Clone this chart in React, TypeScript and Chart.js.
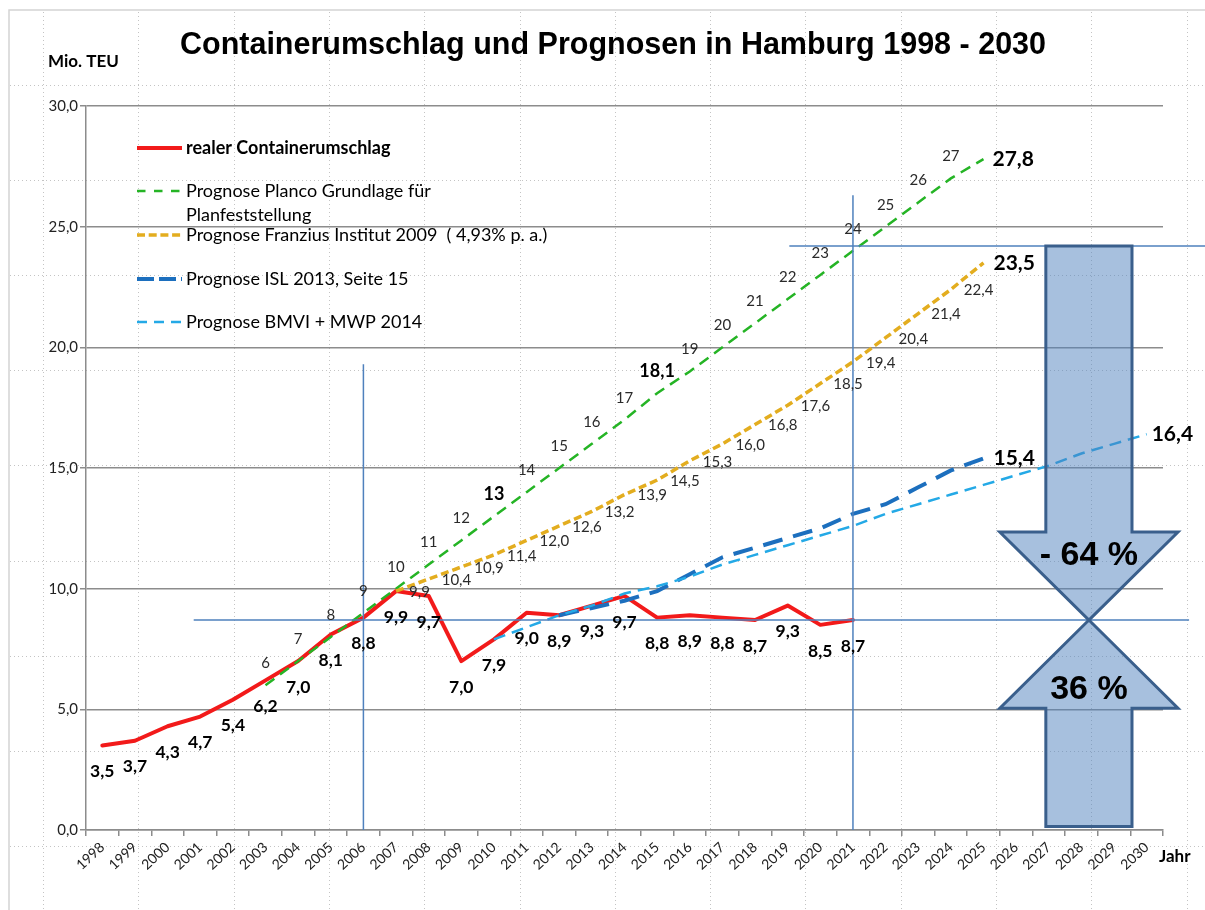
import React, { useEffect, useRef } from 'react';
import { Chart, registerables } from 'chart.js';

Chart.register(...registerables);

// ---------- DATA ----------
const years = [
  '1998', '1999', '2000', '2001', '2002', '2003', '2004', '2005', '2006', '2007', '2008',
  '2009', '2010', '2011', '2012', '2013', '2014', '2015', '2016', '2017', '2018', '2019',
  '2020', '2021', '2022', '2023', '2024', '2025', '2026', '2027', '2028', '2029', '2030',
];

// realer Containerumschlag 1998-2021
const realValues = [
  3.5, 3.7, 4.3, 4.7, 5.4, 6.2, 7.0, 8.1, 8.8, 9.9, 9.7, 7.0, 7.9, 9.0, 8.9, 9.3, 9.7, 8.8,
  8.9, 8.8, 8.7, 9.3, 8.5, 8.7, null, null, null, null, null, null, null, null, null,
];

// Prognose Planco 2003-2025
const plancoValues = [
  null, null, null, null, null, 6, 7, 8, 9, 10, 11, 12, 13, 14, 15, 16, 17, 18.1, 19, 20, 21,
  22, 23, 24, 25, 26, 27, 27.8, null, null, null, null, null,
];

// Prognose Franzius 2007-2025
const franziusValues = [
  null, null, null, null, null, null, null, null, null, 9.9, 10.4, 10.9, 11.4, 12.0, 12.6,
  13.2, 13.9, 14.5, 15.3, 16.0, 16.8, 17.6, 18.5, 19.4, 20.4, 21.4, 22.4, 23.5, null, null,
  null, null, null,
];

// Prognose ISL 2013, 2012-2025
const islValues = [
  null, null, null, null, null, null, null, null, null, null, null, null, null, null, 8.9,
  9.2, 9.5, 9.9, 10.6, 11.3, 11.7, 12.1, 12.5, 13.1, 13.5, 14.2, 14.9, 15.4, null, null,
  null, null, null,
];

// Prognose BMVI + MWP 2014, 2010-2030
const bmviValues = [
  null, null, null, null, null, null, null, null, null, null, null, null, 7.9, 8.4, 8.9, 9.3,
  9.8, 10.1, 10.5, 11.0, 11.4, 11.8, 12.2, 12.6, 13.1, 13.5, 13.9, 14.3, 14.7, 15.1, 15.6,
  16.0, 16.4,
];

const seriesNames = [
  ['realer Containerumschlag'],
  ['Prognose Planco Grundlage für', 'Planfeststellung'],
  ['Prognose Franzius Institut 2009  ( 4,93% p. a.)'],
  ['Prognose ISL 2013, Seite 15'],
  ['Prognose BMVI + MWP 2014'],
];

const yTicks = [0, 5, 10, 15, 20, 25, 30];

// reference levels (Mio. TEU)
const realLevel2021 = 8.7;
const forecastLevel2021 = 24.2;
// vertical reference lines: [year, top value]
const refVerticals: [string, number][] = [
  ['2006', 19.3],
  ['2021', 26.3],
];

const titleText = 'Containerumschlag und Prognosen in Hamburg 1998 - 2030';

// ---------- STYLE ----------
const COLORS = {
  real: '#f21a1a',
  planco: '#25b425',
  franzius: '#e3ad1f',
  isl: '#1c6fbe',
  bmvi: '#24a9e6',
  ref: '#4f81bd',
  grid: '#8c8c8c',
};

const FONT = 'Lato, "Noto Sans", sans-serif';
const TITLE_FONT = '"Liberation Sans", Arial, sans-serif';

const fmtDec = (v: number) => v.toFixed(1).replace('.', ',');
const fmtInt = (v: number) => (Number.isInteger(v) ? String(v) : fmtDec(v));

type LabelCfg = {
  mode: 'all' | 'last';
  pos: 'below' | 'above' | 'right';
  fmt: (v: number) => string;
  bold?: string[];
  lastBig?: boolean;
  bigDx?: number;
};

const labelCfgs: LabelCfg[] = [
  { mode: 'all', pos: 'below', fmt: fmtDec },
  { mode: 'all', pos: 'above', fmt: fmtInt, bold: ['2010', '2015'], lastBig: true, bigDx: 9 },
  { mode: 'all', pos: 'right', fmt: fmtDec, lastBig: true, bigDx: 10 },
  { mode: 'last', pos: 'right', fmt: fmtDec, lastBig: true, bigDx: 10 },
  { mode: 'last', pos: 'right', fmt: fmtDec, lastBig: true, bigDx: 5 },
];

const backgroundPlugin = {
  id: 'sheetBackground',
  beforeDraw(chart: any) {
    const ctx = chart.ctx as CanvasRenderingContext2D;
    const W = chart.width;
    const H = chart.height;
    ctx.save();
    ctx.fillStyle = '#ffffff';
    ctx.fillRect(0, 0, W, H);
    // worksheet dotted cell grid
    ctx.strokeStyle = '#c4c4c4';
    ctx.lineWidth = 1;
    ctx.setLineDash([1, 3]);
    for (let x = 43; x < W; x += 95.3) {
      ctx.beginPath();
      ctx.moveTo(Math.round(x) + 0.5, 12);
      ctx.lineTo(Math.round(x) + 0.5, H);
      ctx.stroke();
    }
    for (let y = 84.5; y < H; y += 95.2) {
      ctx.beginPath();
      ctx.moveTo(10, Math.round(y) + 0.5);
      ctx.lineTo(W, Math.round(y) + 0.5);
      ctx.stroke();
    }
    ctx.setLineDash([]);
    // chart object border
    ctx.strokeStyle = '#d4d4d4';
    ctx.lineWidth = 1.5;
    ctx.beginPath();
    ctx.moveTo(9, H);
    ctx.lineTo(9, 10);
    ctx.lineTo(W, 10);
    ctx.stroke();
    ctx.restore();
  },
};

const overlayPlugin = {
  id: 'overlay',
  afterDatasetsDraw(chart: any) {
    const ctx = chart.ctx as CanvasRenderingContext2D;
    const xs = chart.scales.x;
    const ys = chart.scales.y;
    const area = chart.chartArea;
    ctx.save();

    // reference lines
    ctx.strokeStyle = COLORS.ref;
    ctx.lineWidth = 1.5;
    ctx.setLineDash([]);
    const yReal = ys.getPixelForValue(realLevel2021);
    const yFc = ys.getPixelForValue(forecastLevel2021);
    ctx.beginPath();
    ctx.moveTo(xs.getPixelForValue(2.8), yReal);
    ctx.lineTo(xs.getPixelForValue(33.3), yReal);
    ctx.moveTo(xs.getPixelForValue(21.05), yFc);
    ctx.lineTo(chart.width, yFc);
    refVerticals.forEach(([yr, top]) => {
      const px = xs.getPixelForValue(years.indexOf(yr));
      ctx.moveTo(px, ys.getPixelForValue(top));
      ctx.lineTo(px, area.bottom);
    });
    ctx.stroke();

    // double arrow
    const cx = xs.getPixelForValue(30.23);
    const cat = xs.getPixelForValue(1) - xs.getPixelForValue(0);
    const sw = 1.32 * cat;
    const hw = 2.73 * cat;
    const yTop = yFc;
    const yMeet = yReal;
    const headH = ys.getPixelForValue(0) - ys.getPixelForValue(3.65);
    const yBottom = ys.getPixelForValue(0.15);
    ctx.fillStyle = 'rgba(79,129,189,0.5)';
    ctx.strokeStyle = '#3a5f8c';
    ctx.lineWidth = 3;
    ctx.lineJoin = 'miter';
    ctx.beginPath();
    ctx.moveTo(cx - sw, yTop);
    ctx.lineTo(cx + sw, yTop);
    ctx.lineTo(cx + sw, yMeet - headH);
    ctx.lineTo(cx + hw, yMeet - headH);
    ctx.lineTo(cx, yMeet);
    ctx.lineTo(cx - hw, yMeet - headH);
    ctx.lineTo(cx - sw, yMeet - headH);
    ctx.closePath();
    ctx.fill();
    ctx.stroke();
    ctx.beginPath();
    ctx.moveTo(cx, yMeet);
    ctx.lineTo(cx + hw, yMeet + headH);
    ctx.lineTo(cx + sw, yMeet + headH);
    ctx.lineTo(cx + sw, yBottom);
    ctx.lineTo(cx - sw, yBottom);
    ctx.lineTo(cx - sw, yMeet + headH);
    ctx.lineTo(cx - hw, yMeet + headH);
    ctx.closePath();
    ctx.fill();
    ctx.stroke();

    const share = Math.round((realLevel2021 / forecastLevel2021) * 100);
    ctx.fillStyle = '#000';
    ctx.font = `bold 34px ${TITLE_FONT}`;
    ctx.textAlign = 'center';
    ctx.textBaseline = 'middle';
    ctx.fillText(`- ${100 - share} %`, cx, yMeet - headH + 24);
    ctx.fillText(`${share} %`, cx, yMeet + headH - 19);

    // data labels
    chart.data.datasets.forEach((ds: any, di: number) => {
      const cfg = labelCfgs[di];
      const meta = chart.getDatasetMeta(di);
      const vals = ds.data as (number | null)[];
      let last = -1;
      vals.forEach((v, i) => {
        if (v !== null) last = i;
      });
      vals.forEach((v, i) => {
        if (v === null) return;
        if (cfg.mode === 'last' && i !== last) return;
        const pt = meta.data[i];
        const text = cfg.fmt(v);
        if (i === last && cfg.lastBig) {
          ctx.font = `bold 21px ${FONT}`;
          ctx.fillStyle = '#000';
          ctx.textAlign = 'left';
          ctx.textBaseline = 'middle';
          ctx.fillText(text, pt.x + (cfg.bigDx || 8), pt.y);
          return;
        }
        const isBold = cfg.bold && cfg.bold.includes(years[i]);
        if (cfg.pos === 'below') {
          ctx.font = `bold 17.5px ${FONT}`;
          ctx.fillStyle = '#000';
          ctx.textAlign = 'center';
          ctx.textBaseline = 'middle';
          ctx.fillText(text, pt.x, pt.y + 26);
        } else if (cfg.pos === 'above') {
          ctx.font = isBold ? `bold 18px ${FONT}` : `15px ${FONT}`;
          ctx.fillStyle = isBold ? '#000' : '#2a2a2a';
          ctx.textAlign = 'center';
          ctx.textBaseline = 'middle';
          ctx.fillText(text, pt.x, pt.y - 22);
        } else {
          ctx.font = `15px ${FONT}`;
          ctx.fillStyle = '#2a2a2a';
          ctx.textAlign = 'left';
          ctx.textBaseline = 'middle';
          ctx.fillText(text, pt.x + 13, pt.y + 1);
        }
      });
    });
    ctx.restore();
  },
  afterDraw(chart: any) {
    const ctx = chart.ctx as CanvasRenderingContext2D;
    ctx.save();
    // title
    ctx.fillStyle = '#000';
    ctx.font = `bold 30.5px ${TITLE_FONT}`;
    ctx.textAlign = 'center';
    ctx.textBaseline = 'alphabetic';
    ctx.fillText(titleText, 613, 54);
    // axis titles
    ctx.font = `bold 17px ${FONT}`;
    ctx.textAlign = 'left';
    ctx.textBaseline = 'middle';
    ctx.fillText('Mio. TEU', 48, 62);
    ctx.fillText('Jahr', 1159, 857);

    // legend
    const rows = [148, 191, 235, 279, 322];
    chart.data.datasets.forEach((ds: any, di: number) => {
      const y = rows[di];
      ctx.strokeStyle = ds.borderColor;
      ctx.lineWidth = di === 0 ? 4 : ds.borderWidth;
      ctx.setLineDash(ds.legendDash || []);
      ctx.lineCap = 'butt';
      ctx.beginPath();
      ctx.moveTo(137, y);
      ctx.lineTo(182, y);
      ctx.stroke();
      ctx.setLineDash([]);
      ctx.fillStyle = '#000';
      ctx.font = di === 0 ? `bold 18px ${FONT}` : `18px ${FONT}`;
      seriesNames[di].forEach((line, li) => {
        ctx.fillText(line, 186, y + li * 24);
      });
    });
    ctx.restore();
  },
};

export default function App() {
  const canvasRef = useRef<HTMLCanvasElement>(null);

  useEffect(() => {
    document.body.style.margin = '0';
    const canvas = canvasRef.current;
    if (!canvas) return;
    const chart = new Chart(canvas, {
      type: 'line',
      data: {
        labels: years,
        datasets: [
          {
            label: seriesNames[0].join(' '),
            data: realValues,
            borderColor: COLORS.real,
            borderWidth: 4,
            pointRadius: 0,
            order: 10,
            borderJoinStyle: 'round',
            borderCapStyle: 'round',
          } as any,
          {
            label: seriesNames[1].join(' '),
            data: plancoValues,
            borderColor: COLORS.planco,
            borderWidth: 2.5,
            borderDash: [11, 7],
            legendDash: [8.5, 8.5],
            pointRadius: 0,
            order: 4,
          },
          {
            label: seriesNames[2].join(' '),
            data: franziusValues,
            borderColor: COLORS.franzius,
            borderWidth: 3.5,
            borderDash: [8, 4],
            legendDash: [8, 3.7],
            pointRadius: 0,
            order: 3,
          },
          {
            label: seriesNames[3].join(' '),
            data: islValues,
            borderColor: COLORS.isl,
            borderWidth: 4,
            borderDash: [20, 11],
            legendDash: [17, 5],
            pointRadius: 0,
            order: 2,
          },
          {
            label: seriesNames[4].join(' '),
            data: bmviValues,
            borderColor: COLORS.bmvi,
            borderWidth: 2.5,
            borderDash: [12, 7],
            legendDash: [10, 7],
            pointRadius: 0,
            order: 1,
          },
        ] as any,
      },
      options: {
        responsive: false,
        animation: false,
        devicePixelRatio: 1,
        layout: { padding: { top: 106, right: 42, left: 0, bottom: 0 } },
        plugins: {
          legend: { display: false },
          title: { display: false },
          tooltip: { enabled: false },
        },
        elements: { line: { tension: 0 } },
        scales: {
          x: {
            type: 'category',
            offset: true,
            afterFit: (s: any) => {
              s.height = 80;
            },
            grid: {
              display: true,
              offset: true,
              drawOnChartArea: false,
              drawTicks: true,
              tickLength: 6,
              color: COLORS.grid,
              lineWidth: 1.5,
            },
            border: { display: true, color: COLORS.grid, width: 1.5 },
            ticks: {
              autoSkip: false,
              minRotation: 43,
              maxRotation: 43,
              padding: 3,
              color: '#222',
              font: { family: FONT, size: 14 },
            },
          },
          y: {
            min: 0,
            max: 30,
            afterFit: (s: any) => {
              s.width = 86;
            },
            afterBuildTicks: (s: any) => {
              s.ticks = yTicks.map((v) => ({ value: v }));
            },
            grid: {
              color: COLORS.grid,
              lineWidth: 1.5,
              tickLength: 6,
            },
            border: { display: true, color: COLORS.grid, width: 1.5 },
            ticks: {
              padding: 2,
              color: '#222',
              font: { family: FONT, size: 15 },
              callback: (v: any) => fmtDec(Number(v)),
            },
          },
        },
      },
      plugins: [backgroundPlugin, overlayPlugin],
    });
    return () => chart.destroy();
  }, []);

  return (
    <div style={{ width: 1205, height: 910 }}>
      <canvas ref={canvasRef} width={1205} height={910} style={{ display: 'block' }} />
    </div>
  );
}
